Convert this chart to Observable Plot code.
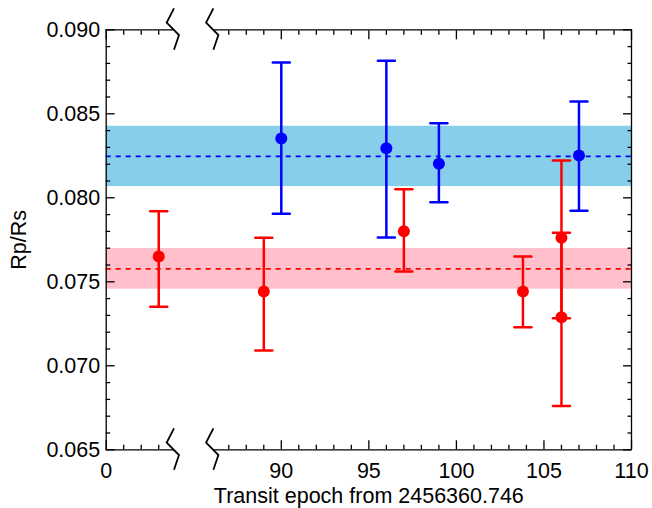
<!DOCTYPE html>
<html><head><meta charset="utf-8">
<script src="https://cdn.jsdelivr.net/npm/d3@7"></script>
<script src="https://cdn.jsdelivr.net/npm/@observablehq/plot@0.6"></script>
<style>body{margin:0;background:#fff}</style>
</head><body><div id="chart"></div>
<script>
// ---- data ----
const redEpoch  = [3, 89, 97, 103.8, 106, 106];
const redRpRs   = [0.07651, 0.07442, 0.07801, 0.07442, 0.07762, 0.07289];
const redLow    = [0.07351, 0.07091, 0.07561, 0.07230, 0.07283, 0.06760];
const redHigh   = [0.07920, 0.07762, 0.08051, 0.07651, 0.08222, 0.07792];

const blueEpoch = [90, 96, 99, 107];
const blueRpRs  = [0.08353, 0.08295, 0.08202, 0.08252];
const blueLow   = [0.07905, 0.07764, 0.07974, 0.07923];
const blueHigh  = [0.08805, 0.08816, 0.08444, 0.08573];

const bandName  = ["red", "blue"];
const bandMean  = [0.07577, 0.08247];
const bandLow   = [0.07456, 0.08067];
const bandHigh  = [0.07698, 0.08426];

const xExtent      = [0, 110];
const xPieces      = [0, 4, 86, 110];
const breakAt      = [3.9, 86.15];
const xMajorTicks  = [0, 90, 95, 100, 105, 110];
const xMinorTicks  = [1, 2, 3, 87, 88, 89, 91, 92, 93, 94, 96, 97, 98, 99, 101, 102, 103, 104, 106, 107, 108, 109];
const yDomain      = [0.065, 0.090];
const yMajorTicks  = [0.065, 0.070, 0.075, 0.080, 0.085, 0.090];
const yMinorTicks  = [0.066, 0.067, 0.068, 0.069, 0.071, 0.072, 0.073, 0.074, 0.076, 0.077, 0.078, 0.079,
                      0.081, 0.082, 0.083, 0.084, 0.086, 0.087, 0.088, 0.089];

// ---- tables ----
const red  = redEpoch.map((e, i) => ({epoch: e, v: redRpRs[i], lo: redLow[i], hi: redHigh[i]}));
const blue = blueEpoch.map((e, i) => ({epoch: e, v: blueRpRs[i], lo: blueLow[i], hi: blueHigh[i]}));
const bands = bandName.map((n, i) => ({name: n, mean: bandMean[i], lo: bandLow[i], hi: bandHigh[i]}));

const colors = {red: "#ff0000", blue: "#0000ff"};
const bandFill = {red: "#ffc0cb", blue: "#87ceeb"};

// ---- layout ----
const W = 652, H = 508, mL = 105.7, mR = 21, mT = 29.3, mB = 58.7;
const unit = (W - mR - mL) / 30;
const xRange = [mL, mL + 4 * unit, mL + 6 * unit, W - mR];

const font = "'Liberation Sans', Arial, Helvetica, sans-serif";
const FS = 21.5;
const capShape = {draw(ctx, l) { ctx.moveTo(0, 0); ctx.lineTo(0, -l); }};

function errorMarks(data, color) {
  return [
    Plot.ruleX(data, {x: "epoch", y1: "lo", y2: "hi", stroke: color, strokeWidth: 2.5}),
    Plot.vector(data, {x: "epoch", y: "hi", length: 17, rotate: 90, anchor: "middle", shape: capShape, stroke: color, strokeWidth: 2.5}),
    Plot.vector(data, {x: "epoch", y: "lo", length: 17, rotate: 90, anchor: "middle", shape: capShape, stroke: color, strokeWidth: 2.5}),
    Plot.dot(data, {x: "epoch", y: "v", r: 6, fill: color, stroke: null})
  ];
}

function breakMarks(index, scales) {
  const g = d3.create("svg:g").attr("fill", "none").attr("stroke", "black").attr("stroke-width", 1.8);
  for (const xb of breakAt) for (const yb of yDomain) {
    const X = scales.x(xb), Y = scales.y(yb);
    g.append("path").attr("d", `M${X},${Y - 21}L${X - 7.3},${Y - 6.7}L${X + 5},${Y + 5.7}L${X},${Y + 20.5}`);
  }
  return g.node();
}

const tickStyle = {stroke: "black", strokeWidth: 1.3, label: null};

const chart = Plot.plot({
  width: W, height: H,
  marginLeft: mL, marginRight: mR, marginTop: mT, marginBottom: mB,
  style: {fontFamily: font, fontSize: FS + "px", background: "white", color: "black"},
  x: {type: "linear", domain: xPieces, range: xRange, label: null},
  y: {domain: yDomain, label: null},
  marks: [
    Plot.rect(bands, {x1: xExtent[0], x2: xExtent[1], y1: "lo", y2: "hi", fill: d => bandFill[d.name]}),
    Plot.ruleY(bands, {y: "mean", x1: xExtent[0], x2: xExtent[1], stroke: d => colors[d.name], strokeWidth: 1.7, strokeDasharray: "5,5"}),
    ...errorMarks(blue, colors.blue),
    ...errorMarks(red, colors.red),
    // frame (broken at the axis break)
    Plot.ruleX(xExtent, {stroke: "black", strokeWidth: 1.3}),
    Plot.ruleY(yDomain, {x1: xExtent[0], x2: breakAt[0], stroke: "black", strokeWidth: 1.3}),
    Plot.ruleY(yDomain, {x1: breakAt[1], x2: xExtent[1], stroke: "black", strokeWidth: 1.3}),
    breakMarks,
    // axes: inward ticks on all sides
    Plot.axisX({anchor: "bottom", ticks: xMajorTicks, tickSize: -9, tickPadding: 22, tickFormat: d => String(d), fontSize: FS, fill: "black", ...tickStyle}),
    Plot.axisX({anchor: "bottom", ticks: xMinorTicks, tickSize: -4.5, tickFormat: () => "", ...tickStyle}),
    Plot.axisX({anchor: "top", ticks: xMajorTicks, tickSize: -9, tickFormat: () => "", ...tickStyle}),
    Plot.axisX({anchor: "top", ticks: xMinorTicks, tickSize: -4.5, tickFormat: () => "", ...tickStyle}),
    Plot.axisY({anchor: "left", ticks: yMajorTicks, tickSize: -9, tickPadding: 15, tickFormat: d3.format(".3f"), fontSize: FS, fill: "black", ...tickStyle}),
    Plot.axisY({anchor: "left", ticks: yMinorTicks, tickSize: -4.5, tickFormat: () => "", ...tickStyle}),
    Plot.axisY({anchor: "right", ticks: yMajorTicks, tickSize: -9, tickFormat: () => "", ...tickStyle}),
    Plot.axisY({anchor: "right", ticks: yMinorTicks, tickSize: -4.5, tickFormat: () => "", ...tickStyle}),
    // axis titles
    Plot.text(["Transit epoch from 2456360.746"], {frameAnchor: "bottom", dy: 53, lineAnchor: "bottom", textAnchor: "middle", fontSize: FS, fill: "black"}),
    Plot.text(["Rp/Rs"], {frameAnchor: "left", dx: -80, rotate: -90, lineAnchor: "bottom", textAnchor: "middle", fontSize: FS, fill: "black"})
  ]
});
document.getElementById("chart").appendChild(chart);
</script>
</body></html>
